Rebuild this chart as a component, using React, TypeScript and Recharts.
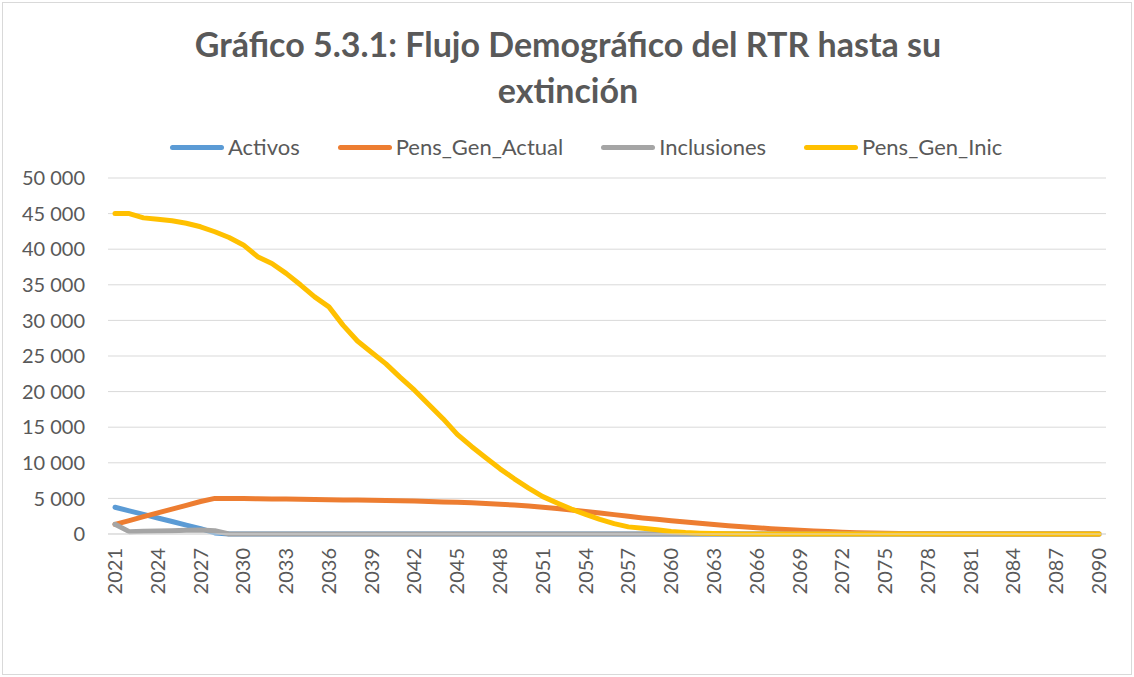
import React from 'react';
import { LineChart, Line, XAxis, YAxis, CartesianGrid } from 'recharts';

const years = [
  '2021','2022','2023','2024','2025','2026','2027','2028','2029','2030',
  '2031','2032','2033','2034','2035','2036','2037','2038','2039','2040',
  '2041','2042','2043','2044','2045','2046','2047','2048','2049','2050',
  '2051','2052','2053','2054','2055','2056','2057','2058','2059','2060',
  '2061','2062','2063','2064','2065','2066','2067','2068','2069','2070',
  '2071','2072','2073','2074','2075','2076','2077','2078','2079','2080',
  '2081','2082','2083','2084','2085','2086','2087','2088','2089','2090',
];

const activos = [
  3750, 3250, 2750, 2250, 1750, 1250, 750, 150, 0, 0,
  0, 0, 0, 0, 0, 0, 0, 0, 0, 0,
  0, 0, 0, 0, 0, 0, 0, 0, 0, 0,
  0, 0, 0, 0, 0, 0, 0, 0, 0, 0,
  0, 0, 0, 0, 0, 0, 0, 0, 0, 0,
  0, 0, 0, 0, 0, 0, 0, 0, 0, 0,
  0, 0, 0, 0, 0, 0, 0, 0, 0, 0,
];

const pensGenActual = [
  1360, 1890, 2430, 2960, 3490, 4030, 4560, 5000, 4990, 4970,
  4950, 4920, 4900, 4870, 4850, 4820, 4790, 4760, 4730, 4700,
  4660, 4620, 4570, 4510, 4450, 4380, 4290, 4180, 4060, 3920,
  3760, 3580, 3380, 3170, 2950, 2720, 2480, 2260, 2060, 1860,
  1680, 1500, 1330, 1170, 1020, 880, 750, 630, 520, 420,
  340, 260, 190, 130, 90, 60, 40, 25, 15, 10,
  5, 0, 0, 0, 0, 0, 0, 0, 0, 0,
];

const inclusiones = [
  1360, 330, 380, 420, 470, 520, 560, 450, 0, 0,
  0, 0, 0, 0, 0, 0, 0, 0, 0, 0,
  0, 0, 0, 0, 0, 0, 0, 0, 0, 0,
  0, 0, 0, 0, 0, 0, 0, 0, 0, 0,
  0, 0, 0, 0, 0, 0, 0, 0, 0, 0,
  0, 0, 0, 0, 0, 0, 0, 0, 0, 0,
  0, 0, 0, 0, 0, 0, 0, 0, 0, 0,
];

const pensGenInic = [
  45000, 45000, 44400, 44200, 44000, 43650, 43150, 42450, 41650, 40600,
  38950, 38000, 36600, 35000, 33300, 31900, 29300, 27100, 25500, 23900,
  22000, 20200, 18200, 16200, 14000, 12300, 10700, 9150, 7750, 6450,
  5250, 4350, 3500, 2750, 2050, 1450, 1000, 800, 600, 350,
  200, 120, 60, 30, 10, 0, 0, 0, 0, 0,
  0, 0, 0, 0, 0, 0, 0, 0, 0, 0,
  0, 0, 0, 0, 0, 0, 0, 0, 0, 0,
];

const yTicks = [0, 5000, 10000, 15000, 20000, 25000, 30000, 35000, 40000, 45000, 50000];

const titleLines = ['Gráfico 5.3.1: Flujo Demográfico del RTR hasta su', 'extinción'];

const seriesNames = ['Activos', 'Pens_Gen_Actual', 'Inclusiones', 'Pens_Gen_Inic'];
const seriesColors = ['#5B9BD5', '#ED7D31', '#A5A5A5', '#FFC000'];
const seriesValues = [activos, pensGenActual, inclusiones, pensGenInic];

const data = years.map((year, i) => {
  const row: Record<string, string | number> = { year };
  seriesNames.forEach((name, s) => {
    row[name] = seriesValues[s][i];
  });
  return row;
});

const TEXT = '#595959';
const FONT = 'Lato, "Open Sans", sans-serif';

const fmt = (v: number) => String(v).replace(/\B(?=(\d{3})+(?!\d))/g, ' ');

const XTick = (props: any) => {
  const { x, y, payload } = props;
  return (
    <text
      x={x}
      y={y}
      transform={`rotate(-90, ${x}, ${y})`}
      textAnchor="end"
      dy="0.35em"
      fill={TEXT}
      fontSize={20}
      fontFamily={FONT}
    >
      {payload.value}
    </text>
  );
};

export default function App() {
  return (
    <div style={{ position: 'absolute', left: 0, top: 0, width: 1134, height: 677, background: '#fff' }}>
      <div
        style={{
          position: 'absolute',
          left: 2,
          top: 2,
          width: 1130,
          height: 673,
          boxSizing: 'border-box',
          border: '1px solid #d9d9d9',
        }}
      />
      <div style={{ position: 'absolute', left: 0, top: 0 }}>
        <LineChart
          width={1134}
          height={677}
          data={data}
          margin={{ top: 178, right: 28, bottom: 73, left: 0 }}
        >
          <CartesianGrid vertical={false} stroke="#d9d9d9" strokeWidth={1} />
          <XAxis
            dataKey="year"
            interval={2}
            padding={{ left: 7, right: 7 }}
            height={70}
            tickLine={false}
            tickSize={0}
            tickMargin={14}
            axisLine={{ stroke: '#d9d9d9', strokeWidth: 1 }}
            tick={<XTick />}
          />
          <YAxis
            domain={[0, 50000]}
            ticks={yTicks}
            width={108}
            axisLine={false}
            tickLine={false}
            tickSize={0}
            tickMargin={23}
            tickFormatter={fmt}
            tick={{ fill: TEXT, fontSize: 20, fontFamily: FONT }}
          />
          {seriesNames.map((name, s) => (
            <Line
              key={name}
              type="linear"
              dataKey={name}
              stroke={seriesColors[s]}
              strokeWidth={5}
              strokeLinecap="round"
              strokeLinejoin="round"
              dot={false}
              activeDot={false}
              isAnimationActive={false}
            />
          ))}
        </LineChart>
      </div>
      <svg
        width={1134}
        height={677}
        style={{ position: 'absolute', left: 0, top: 0, pointerEvents: 'none' }}
      >
        <text x={568} y={57} textAnchor="middle" fill={TEXT} fontSize={34} fontWeight={700} fontFamily={FONT}>
          {titleLines[0]}
        </text>
        <text x={568} y={103} textAnchor="middle" fill={TEXT} fontSize={34} fontWeight={700} fontFamily={FONT}>
          {titleLines[1]}
        </text>
      </svg>
      <div
        style={{
          position: 'absolute',
          left: 170,
          top: 134,
          height: 26,
          display: 'flex',
          alignItems: 'center',
          gap: 38,
          fontFamily: FONT,
          fontSize: 22,
          color: TEXT,
          whiteSpace: 'nowrap',
        }}
      >
        {seriesNames.map((name, s) => (
          <div key={name} style={{ display: 'flex', alignItems: 'center' }}>
            <span
              style={{
                display: 'inline-block',
                width: 54,
                height: 5,
                borderRadius: 3,
                background: seriesColors[s],
                marginRight: 4,
              }}
            />
            <span style={{ lineHeight: '26px' }}>{name}</span>
          </div>
        ))}
      </div>
    </div>
  );
}
